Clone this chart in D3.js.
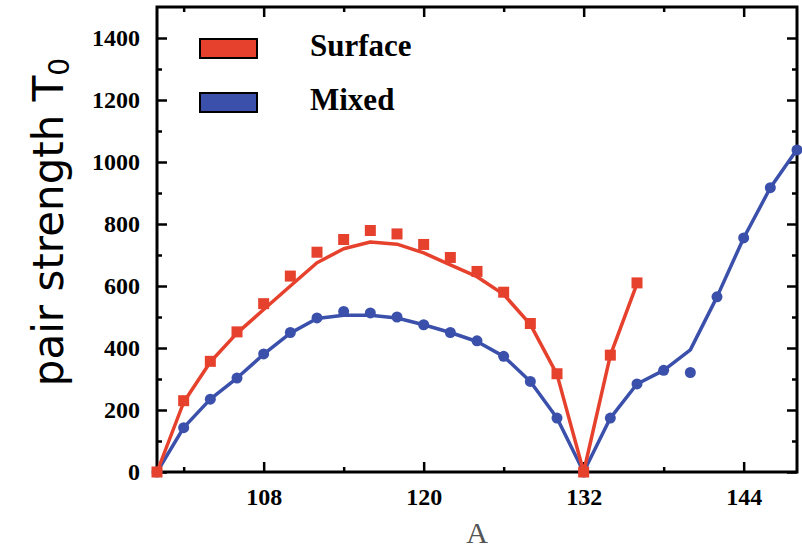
<!DOCTYPE html>
<html>
<head>
<meta charset="utf-8">
<script src="https://cdn.jsdelivr.net/npm/d3@7"></script>
<style>
  body { margin: 0; background: #fff; }
  svg { display: block; }
</style>
</head>
<body>
<script>
// mass number A, every 2 units
const surfaceA = [100, 102, 104, 106, 108, 110, 112, 114, 116, 118, 120, 122, 124, 126, 128, 130, 132, 134, 136];
const surfacePoints = [0, 230, 357, 452, 543, 632, 709, 750, 779, 768, 734, 692, 647, 580, 479, 317, 0, 377, 610];
const surfaceLine = [0, 225, 355, 448, 524, 600, 675, 720, 742, 735, 707, 668, 630, 573, 476, 315, 0, 376, 608];

const mixedA = [100, 102, 104, 106, 108, 110, 112, 114, 116, 118, 120, 122, 124, 126, 128, 130, 132, 134, 136, 138, 140, 142, 144, 146, 148];
const mixedPoints = [0, 143, 235, 303, 381, 450, 497, 518, 513, 500, 475, 450, 423, 373, 292, 174, 0, 174, 284, 328, 321, 565, 755, 917, 1039];
const mixedLine = [0, 143, 235, 303, 380, 448, 495, 506, 506, 497, 475, 450, 421, 373, 292, 174, 0, 174, 284, 328, 394, 565, 755, 917, 1040];

const xMajor = [108, 120, 132, 144];
const xMinor = [102, 114, 126, 138];
const yMajor = [0, 200, 400, 600, 800, 1000, 1200, 1400];
const yMinor = [100, 300, 500, 700, 900, 1100, 1300];

const legendLabels = ["Surface", "Mixed"];

const red = "#e6412d";
const blue = "#3a50ab";

const width = 802;
const height = 548;
const margin = { top: 7, right: 5, bottom: 76, left: 157 };
const w = width - margin.left - margin.right;
const h = height - margin.top - margin.bottom;

const svg = d3.select("body").append("svg")
    .attr("width", width)
    .attr("height", height);

const g = svg.append("g")
    .attr("transform", `translate(${margin.left},${margin.top})`);

const x = d3.scaleLinear().domain([100, 148]).range([0, w]);
const y = d3.scaleLinear().domain([0, 1500]).range([h, 0]);

const tickFont = "'Liberation Serif', serif";

function styleAxis(sel, labels) {
    sel.select(".domain").remove();
    sel.selectAll(".tick line").attr("stroke", "#000").attr("stroke-width", 2.5);
    if (labels) {
        sel.selectAll(".tick text")
            .attr("fill", "#000")
            .style("font-family", tickFont)
            .style("font-weight", "bold")
            .style("font-size", "24px");
    } else {
        sel.selectAll(".tick text").remove();
    }
}

// bottom / top
g.append("g").attr("transform", `translate(0,${h})`)
    .call(d3.axisBottom(x).tickValues(xMajor).tickSize(-10).tickPadding(16).tickFormat(d3.format("d")))
    .call(s => styleAxis(s, true));
g.append("g").attr("transform", `translate(0,${h})`)
    .call(d3.axisBottom(x).tickValues(xMinor).tickSize(-5))
    .call(s => styleAxis(s, false));
g.append("g")
    .call(d3.axisTop(x).tickValues(xMajor).tickSize(-10))
    .call(s => styleAxis(s, false));
g.append("g")
    .call(d3.axisTop(x).tickValues(xMinor).tickSize(-5))
    .call(s => styleAxis(s, false));

// left / right
g.append("g")
    .call(d3.axisLeft(y).tickValues(yMajor).tickSize(-10).tickPadding(17).tickFormat(d3.format("d")))
    .call(s => styleAxis(s, true));
g.append("g")
    .call(d3.axisLeft(y).tickValues(yMinor).tickSize(-5))
    .call(s => styleAxis(s, false));
g.append("g").attr("transform", `translate(${w},0)`)
    .call(d3.axisRight(y).tickValues(yMajor).tickSize(-10))
    .call(s => styleAxis(s, false));
g.append("g").attr("transform", `translate(${w},0)`)
    .call(d3.axisRight(y).tickValues(yMinor).tickSize(-5))
    .call(s => styleAxis(s, false));

// frame
g.append("rect")
    .attr("width", w)
    .attr("height", h)
    .attr("fill", "none")
    .attr("stroke", "#000")
    .attr("stroke-width", 3);

const line = d3.line()
    .x(d => x(d[0]))
    .y(d => y(d[1]));

// mixed
g.append("path")
    .datum(mixedA.map((a, i) => [a, mixedLine[i]]))
    .attr("d", line)
    .attr("fill", "none")
    .attr("stroke", blue)
    .attr("stroke-width", 3.5)
    .attr("stroke-linejoin", "round");

g.selectAll(".mixed")
    .data(mixedA.map((a, i) => [a, mixedPoints[i]]))
    .enter()
    .append("circle")
    .attr("class", "mixed")
    .attr("cx", d => x(d[0]))
    .attr("cy", d => y(d[1]))
    .attr("r", 5.5)
    .attr("fill", blue);

// surface
g.append("path")
    .datum(surfaceA.map((a, i) => [a, surfaceLine[i]]))
    .attr("d", line)
    .attr("fill", "none")
    .attr("stroke", red)
    .attr("stroke-width", 3.5)
    .attr("stroke-linejoin", "round");

const sq = 11;
g.selectAll(".surface")
    .data(surfaceA.map((a, i) => [a, surfacePoints[i]]))
    .enter()
    .append("rect")
    .attr("class", "surface")
    .attr("x", d => x(d[0]) - sq / 2)
    .attr("y", d => y(d[1]) - sq / 2)
    .attr("width", sq)
    .attr("height", sq)
    .attr("fill", red);

// legend
const legend = g.append("g").attr("transform", "translate(43,32)");
[red, blue].forEach((c, i) => {
    legend.append("rect")
        .attr("x", 0)
        .attr("y", i * 54)
        .attr("width", 57)
        .attr("height", 19)
        .attr("fill", c)
        .attr("stroke", "#000")
        .attr("stroke-width", 2);
    legend.append("text")
        .attr("x", 110)
        .attr("y", i * 54 + 17)
        .style("font-family", tickFont)
        .style("font-weight", "bold")
        .style("font-size", "31px")
        .text(legendLabels[i]);
});

// axis titles
svg.append("text")
    .attr("x", margin.left + w / 2)
    .attr("y", 543)
    .attr("text-anchor", "middle")
    .attr("fill", "#555")
    .style("font-family", "'Liberation Serif', serif")
    .style("font-size", "30px")
    .text("A");

const yt = svg.append("text")
    .attr("transform", "translate(63,222) rotate(-90)")
    .attr("text-anchor", "middle")
    .attr("fill", "#000")
    .style("font-family", "'DejaVu Sans', sans-serif")
    .style("font-size", "42px");
yt.append("tspan").text("pair strength T");
yt.append("tspan").attr("dy", 6).style("font-size", "28px").text("0");
</script>
</body>
</html>
